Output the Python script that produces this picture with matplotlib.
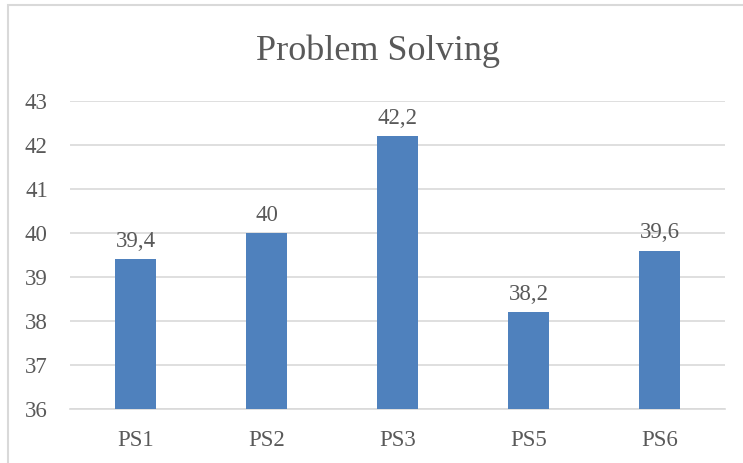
import matplotlib.pyplot as plt
from matplotlib.patches import Rectangle

categories = ['PS1', 'PS2', 'PS3', 'PS5', 'PS6']
scores = [39.4, 40, 42.2, 38.2, 39.6]
score_labels = ['39,4', '40', '42,2', '38,2', '39,6']

plt.rcParams['font.family'] = ['Liberation Serif', 'DejaVu Serif']
text_color = '#595959'

fig = plt.figure(figsize=(7.43, 4.63), dpi=100)
ax = fig.add_axes([0.0942, 0.1166, 0.8816, 0.6653])

# chart border, running off the right and bottom edges
fig.patches.append(Rectangle((8 / 743, -0.1), 1.2, 1 - 5 / 463 + 0.1,
                             transform=fig.transFigure, fill=False,
                             edgecolor='#D9D9D9', linewidth=1.5))

x = range(len(categories))
bars = ax.bar(x, [s - 36 for s in scores], bottom=36, width=0.32,
              color='#4F81BD', zorder=3)
for xi, s, lab in zip(x, scores, score_labels):
    ax.text(xi, s + 0.17, lab, ha='center', va='bottom',
            fontsize=16.5, color=text_color)

ax.set_ylim(36, 43)
ax.set_xlim(-0.5, len(categories) - 0.5)
ax.set_yticks(range(36, 44))
ax.set_xticks(list(x))
ax.set_xticklabels(categories)
ax.grid(axis='y', color='#D9D9D9', linewidth=1.2, zorder=0)
for side in ['top', 'right', 'left']:
    ax.spines[side].set_visible(False)
ax.spines['bottom'].set_color('#D9D9D9')
ax.spines['bottom'].set_linewidth(1.2)
ax.tick_params(length=0, labelsize=16.5, labelcolor=text_color)
ax.tick_params(axis='x', pad=15)
ax.tick_params(axis='y', pad=16)

fig.text(0.509, 0.89, 'Problem Solving', ha='center', va='center',
         fontsize=26, color=text_color)

fig.savefig('out.png')
